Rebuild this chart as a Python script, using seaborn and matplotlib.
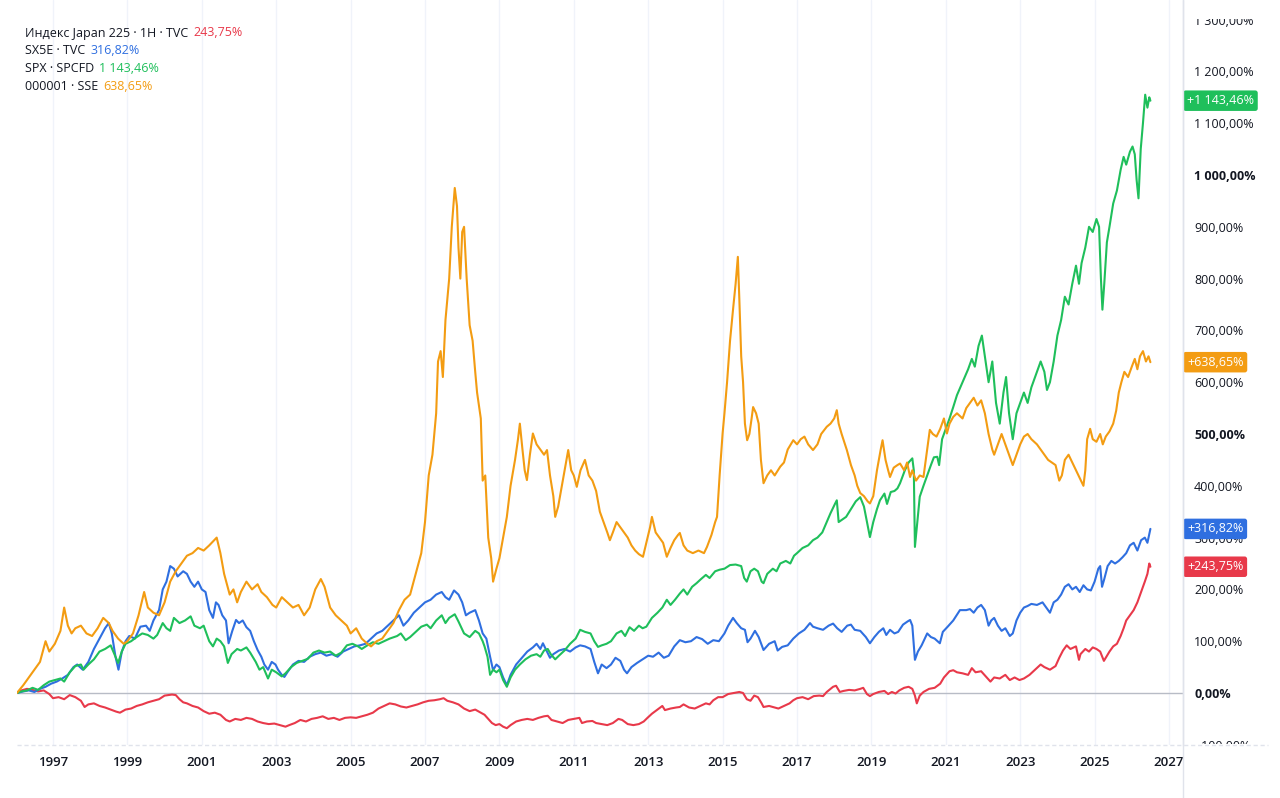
import numpy as np
import pandas as pd
import matplotlib
matplotlib.use("Agg")
import matplotlib.pyplot as plt
import seaborn as sns
from matplotlib.lines import Line2D
from matplotlib.transforms import Bbox, TransformedBbox

# ---------------- data (decimal year, % change) ----------------
SERIES_NAMES = ["Индекс Japan 225 · 1H · TVC", "SX5E · TVC", "SPX · SPCFD", "000001 · SSE"]
SERIES_KEYS = ["nikkei", "sx5e", "spx", "sse"]
LAST_VALUES = [243.75, 316.82, 1143.46, 638.65]
COLORS = ["#E8394A", "#2F6FE0", "#1FBF5B", "#F39C12"]

NIKKEI = [
    (1996.03, 0), (1996.15, 5), (1996.3, 8), (1996.45, 6), (1996.6, 3), (1996.75, 5), (1996.9, -2),
    (1997.0, -10), (1997.15, -8), (1997.3, -12), (1997.45, -4), (1997.6, -8), (1997.75, -15),
    (1997.85, -27), (1997.95, -22), (1998.1, -20), (1998.25, -25), (1998.4, -28), (1998.55, -32),
    (1998.7, -36), (1998.8, -38), (1998.95, -32), (1999.1, -30), (1999.25, -25), (1999.4, -22),
    (1999.55, -18), (1999.7, -15), (1999.85, -12), (2000.0, -5), (2000.2, -3), (2000.3, -4),
    (2000.4, -12), (2000.5, -18), (2000.6, -20), (2000.75, -25), (2000.9, -28), (2001.05, -35),
    (2001.2, -40), (2001.35, -38), (2001.5, -42), (2001.65, -52), (2001.75, -55), (2001.9, -50),
    (2002.05, -52), (2002.2, -48), (2002.35, -50), (2002.5, -55), (2002.65, -58), (2002.8, -60),
    (2002.95, -59), (2003.1, -62), (2003.25, -65), (2003.35, -62), (2003.5, -58), (2003.65, -52),
    (2003.8, -55), (2003.95, -50), (2004.1, -48), (2004.25, -45), (2004.4, -50), (2004.55, -48),
    (2004.7, -52), (2004.85, -48), (2005.0, -47), (2005.15, -48), (2005.3, -45), (2005.45, -42),
    (2005.6, -38), (2005.75, -30), (2005.9, -25), (2006.05, -20), (2006.2, -22), (2006.35, -26),
    (2006.5, -28), (2006.65, -25), (2006.8, -22), (2006.95, -18), (2007.1, -15), (2007.25, -14),
    (2007.4, -12), (2007.5, -10), (2007.6, -15), (2007.75, -18), (2007.9, -22), (2008.05, -30),
    (2008.2, -35), (2008.35, -32), (2008.5, -38), (2008.6, -42), (2008.7, -50), (2008.8, -58),
    (2008.9, -62), (2009.0, -60), (2009.1, -65), (2009.2, -68), (2009.3, -62), (2009.45, -55),
    (2009.6, -52), (2009.75, -50), (2009.9, -52), (2010.05, -48), (2010.2, -45), (2010.3, -44),
    (2010.4, -52), (2010.55, -55), (2010.7, -58), (2010.85, -52), (2011.0, -50), (2011.15, -48),
    (2011.22, -58), (2011.35, -55), (2011.5, -54), (2011.6, -58), (2011.75, -60), (2011.9, -62),
    (2012.05, -58), (2012.2, -50), (2012.3, -52), (2012.45, -60), (2012.6, -62), (2012.75, -60),
    (2012.88, -55), (2012.98, -48), (2013.1, -40), (2013.25, -32), (2013.38, -25), (2013.45, -33),
    (2013.6, -30), (2013.75, -28), (2013.85, -27), (2013.95, -22), (2014.1, -28), (2014.25, -30),
    (2014.4, -25), (2014.55, -20), (2014.65, -22), (2014.75, -14), (2014.88, -8), (2015.0, -8),
    (2015.15, -2), (2015.3, 0), (2015.45, 2), (2015.55, 0), (2015.65, -12), (2015.75, -15),
    (2015.85, -5), (2015.95, -8), (2016.05, -20), (2016.1, -27), (2016.25, -25), (2016.4, -28),
    (2016.5, -30), (2016.65, -25), (2016.8, -20), (2016.9, -14), (2017.0, -10), (2017.15, -8),
    (2017.3, -12), (2017.45, -6), (2017.6, -5), (2017.7, -6), (2017.8, 2), (2017.9, 8),
    (2017.97, 12), (2018.05, 14), (2018.15, 2), (2018.25, 4), (2018.4, 6), (2018.55, 5),
    (2018.7, 8), (2018.78, 10), (2018.88, -2), (2018.96, -6), (2019.05, -2), (2019.2, 2),
    (2019.35, 4), (2019.45, -2), (2019.55, 2), (2019.65, -1), (2019.75, 5), (2019.88, 10),
    (2020.0, 12), (2020.1, 8), (2020.17, -5), (2020.22, -20), (2020.3, -5), (2020.4, 2),
    (2020.55, 8), (2020.7, 10), (2020.85, 18), (2020.95, 30), (2021.1, 42), (2021.2, 44),
    (2021.3, 40), (2021.45, 38), (2021.6, 35), (2021.7, 48), (2021.8, 40), (2021.95, 42),
    (2022.1, 30), (2022.2, 22), (2022.3, 30), (2022.45, 28), (2022.6, 35), (2022.72, 25),
    (2022.85, 30), (2022.98, 25), (2023.1, 28), (2023.25, 35), (2023.4, 45), (2023.55, 55),
    (2023.65, 50), (2023.8, 45), (2023.95, 52), (2024.05, 68), (2024.15, 82), (2024.25, 92),
    (2024.35, 85), (2024.5, 90), (2024.58, 64), (2024.62, 75), (2024.75, 85), (2024.85, 80),
    (2024.95, 88), (2025.05, 85), (2025.15, 80), (2025.25, 62), (2025.3, 68), (2025.4, 80),
    (2025.5, 90), (2025.6, 95), (2025.7, 110), (2025.78, 125), (2025.85, 140), (2025.95, 150),
    (2026.05, 160), (2026.15, 175), (2026.25, 195), (2026.35, 215), (2026.42, 230),
    (2026.47, 250), (2026.5, 243.75),
]

SX5E = [
    (1996.03, 0), (1996.2, 3), (1996.35, 5), (1996.5, 2), (1996.65, 8), (1996.8, 12), (1996.95, 18),
    (1997.1, 22), (1997.25, 28), (1997.4, 35), (1997.55, 50), (1997.65, 55), (1997.8, 45),
    (1997.95, 60), (1998.1, 85), (1998.25, 105), (1998.4, 125), (1998.5, 135), (1998.58, 115),
    (1998.68, 70), (1998.76, 45), (1998.85, 80), (1998.95, 100), (1999.05, 110), (1999.2, 105),
    (1999.35, 128), (1999.5, 130), (1999.6, 120), (1999.7, 140), (1999.85, 160), (1999.95, 200),
    (2000.05, 215), (2000.15, 245), (2000.25, 240), (2000.35, 225), (2000.5, 235), (2000.6, 230),
    (2000.7, 215), (2000.8, 205), (2000.9, 215), (2001.0, 200), (2001.1, 195), (2001.2, 160),
    (2001.3, 145), (2001.38, 175), (2001.45, 170), (2001.55, 150), (2001.65, 140), (2001.72, 96),
    (2001.82, 120), (2001.92, 141), (2002.0, 135), (2002.1, 140), (2002.2, 127), (2002.3, 120),
    (2002.4, 100), (2002.5, 83), (2002.6, 70), (2002.68, 55), (2002.78, 45), (2002.88, 60),
    (2002.98, 55), (2003.05, 45), (2003.15, 35), (2003.22, 31), (2003.3, 40), (2003.45, 55),
    (2003.6, 62), (2003.75, 60), (2003.9, 70), (2004.05, 75), (2004.2, 78), (2004.35, 72),
    (2004.5, 75), (2004.65, 70), (2004.8, 80), (2004.95, 85), (2005.1, 90), (2005.25, 92),
    (2005.4, 95), (2005.55, 105), (2005.7, 115), (2005.85, 120), (2006.0, 130), (2006.15, 140),
    (2006.3, 150), (2006.42, 130), (2006.55, 140), (2006.7, 155), (2006.85, 165), (2007.0, 175),
    (2007.15, 180), (2007.3, 190), (2007.45, 195), (2007.55, 185), (2007.65, 180), (2007.78, 198),
    (2007.9, 190), (2008.0, 175), (2008.1, 150), (2008.2, 155), (2008.35, 160), (2008.45, 140),
    (2008.55, 115), (2008.65, 105), (2008.75, 70), (2008.83, 44), (2008.92, 55), (2009.0, 50),
    (2009.1, 30), (2009.2, 15), (2009.3, 35), (2009.45, 55), (2009.63, 70), (2009.75, 80),
    (2009.9, 88), (2010.0, 95), (2010.1, 85), (2010.17, 96), (2010.28, 80), (2010.36, 68),
    (2010.45, 75), (2010.6, 82), (2010.75, 85), (2010.9, 80), (2011.05, 88), (2011.17, 92),
    (2011.3, 90), (2011.45, 85), (2011.55, 60), (2011.65, 38), (2011.75, 55), (2011.88, 48),
    (2012.0, 55), (2012.12, 68), (2012.25, 62), (2012.35, 45), (2012.43, 38), (2012.55, 50),
    (2012.7, 58), (2012.85, 65), (2013.0, 72), (2013.13, 70), (2013.28, 78), (2013.42, 68),
    (2013.55, 72), (2013.7, 90), (2013.85, 102), (2014.0, 98), (2014.15, 100), (2014.3, 108),
    (2014.45, 104), (2014.6, 95), (2014.75, 102), (2014.9, 100), (2015.05, 115), (2015.15, 130),
    (2015.28, 145), (2015.38, 135), (2015.5, 125), (2015.6, 122), (2015.67, 98), (2015.75, 105),
    (2015.87, 120), (2015.97, 108), (2016.1, 83), (2016.25, 95), (2016.4, 100), (2016.48, 82),
    (2016.6, 89), (2016.75, 92), (2016.9, 105), (2017.05, 115), (2017.2, 122), (2017.35, 135),
    (2017.43, 128), (2017.55, 125), (2017.7, 122), (2017.85, 130), (2017.97, 134), (2018.08, 125),
    (2018.2, 118), (2018.35, 130), (2018.45, 132), (2018.55, 122), (2018.7, 120), (2018.85, 108),
    (2018.96, 96), (2019.08, 108), (2019.2, 118), (2019.32, 125), (2019.4, 112), (2019.5, 122),
    (2019.62, 115), (2019.72, 118), (2019.85, 132), (2019.97, 138), (2020.04, 141), (2020.1, 130),
    (2020.17, 64), (2020.25, 80), (2020.35, 92), (2020.5, 115), (2020.6, 108), (2020.7, 105),
    (2020.84, 96), (2020.92, 118), (2021.05, 128), (2021.2, 140), (2021.38, 160), (2021.55, 160),
    (2021.65, 162), (2021.75, 155), (2021.85, 165), (2021.95, 170), (2022.05, 160), (2022.15, 130),
    (2022.22, 140), (2022.3, 145), (2022.4, 130), (2022.5, 120), (2022.6, 125), (2022.72, 110),
    (2022.8, 115), (2022.9, 140), (2023.0, 155), (2023.1, 165), (2023.2, 168), (2023.3, 172),
    (2023.45, 170), (2023.6, 175), (2023.7, 165), (2023.8, 155), (2023.9, 175), (2024.0, 180),
    (2024.1, 190), (2024.2, 205), (2024.3, 210), (2024.4, 200), (2024.5, 205), (2024.6, 195),
    (2024.7, 208), (2024.8, 200), (2024.9, 198), (2025.0, 215), (2025.1, 240), (2025.15, 245),
    (2025.2, 205), (2025.26, 220), (2025.35, 245), (2025.45, 255), (2025.55, 250), (2025.65, 255),
    (2025.75, 262), (2025.85, 270), (2025.95, 285), (2026.05, 290), (2026.15, 275), (2026.25, 295),
    (2026.35, 300), (2026.42, 290), (2026.5, 316.82),
]

SPX = [
    (1996.03, 0), (1996.15, 3), (1996.3, 5), (1996.45, 10), (1996.6, 6), (1996.75, 15), (1996.9, 22),
    (1997.05, 25), (1997.2, 28), (1997.3, 22), (1997.45, 40), (1997.6, 52), (1997.75, 55),
    (1997.82, 45), (1997.95, 55), (1998.1, 65), (1998.25, 80), (1998.4, 85), (1998.55, 92),
    (1998.65, 75), (1998.75, 58), (1998.85, 80), (1998.95, 95), (1999.1, 100), (1999.25, 108),
    (1999.4, 115), (1999.55, 112), (1999.7, 105), (1999.8, 112), (1999.95, 135), (2000.05, 125),
    (2000.15, 120), (2000.25, 145), (2000.4, 135), (2000.55, 140), (2000.7, 148), (2000.8, 130),
    (2000.95, 125), (2001.05, 130), (2001.2, 100), (2001.3, 90), (2001.4, 105), (2001.5, 100),
    (2001.6, 90), (2001.7, 58), (2001.8, 75), (2001.95, 85), (2002.05, 82), (2002.2, 88),
    (2002.3, 78), (2002.45, 60), (2002.55, 45), (2002.65, 50), (2002.78, 28), (2002.88, 45),
    (2003.0, 40), (2003.15, 32), (2003.25, 38), (2003.4, 50), (2003.55, 58), (2003.7, 62),
    (2003.85, 66), (2004.0, 78), (2004.15, 82), (2004.3, 78), (2004.45, 80), (2004.6, 72),
    (2004.75, 78), (2004.9, 92), (2005.05, 95), (2005.2, 90), (2005.3, 85), (2005.45, 92),
    (2005.6, 98), (2005.75, 95), (2005.9, 100), (2006.05, 105), (2006.25, 110), (2006.35, 115),
    (2006.48, 102), (2006.6, 108), (2006.75, 118), (2006.9, 128), (2007.05, 132), (2007.15, 125),
    (2007.3, 140), (2007.45, 150), (2007.55, 135), (2007.65, 145), (2007.8, 152), (2007.9, 138),
    (2008.05, 115), (2008.2, 108), (2008.35, 120), (2008.45, 115), (2008.55, 100), (2008.6, 90),
    (2008.68, 70), (2008.75, 35), (2008.83, 45), (2008.92, 40), (2009.0, 45), (2009.1, 25),
    (2009.2, 12), (2009.3, 30), (2009.42, 45), (2009.55, 55), (2009.7, 65), (2009.85, 72),
    (2010.0, 75), (2010.1, 70), (2010.2, 82), (2010.3, 85), (2010.38, 75), (2010.5, 65),
    (2010.6, 72), (2010.75, 82), (2010.9, 95), (2011.05, 105), (2011.17, 122), (2011.3, 118),
    (2011.45, 115), (2011.55, 100), (2011.65, 89), (2011.75, 92), (2011.88, 95), (2012.0, 100),
    (2012.15, 115), (2012.28, 120), (2012.38, 110), (2012.5, 127), (2012.62, 120), (2012.75, 130),
    (2012.85, 125), (2012.95, 128), (2013.1, 145), (2013.25, 155), (2013.38, 165), (2013.5, 180),
    (2013.6, 170), (2013.72, 180), (2013.85, 192), (2013.95, 200), (2014.05, 190), (2014.18, 205),
    (2014.3, 212), (2014.42, 220), (2014.55, 228), (2014.65, 222), (2014.8, 235), (2014.92, 238),
    (2015.05, 240), (2015.2, 247), (2015.35, 248), (2015.5, 245), (2015.58, 222), (2015.65, 215),
    (2015.75, 235), (2015.85, 240), (2015.95, 235), (2016.05, 215), (2016.1, 212), (2016.2, 230),
    (2016.35, 240), (2016.45, 235), (2016.55, 250), (2016.7, 255), (2016.82, 250), (2016.92, 265),
    (2017.0, 270), (2017.15, 280), (2017.3, 285), (2017.43, 295), (2017.55, 300), (2017.68, 310),
    (2017.8, 330), (2017.9, 347), (2018.02, 365), (2018.07, 372), (2018.12, 330), (2018.2, 334),
    (2018.32, 340), (2018.45, 355), (2018.58, 370), (2018.7, 378), (2018.8, 360), (2018.88, 330),
    (2018.96, 301), (2019.05, 330), (2019.15, 355), (2019.23, 372), (2019.35, 385), (2019.42, 365),
    (2019.52, 388), (2019.62, 390), (2019.7, 395), (2019.77, 405), (2019.9, 430), (2020.0, 445),
    (2020.1, 453), (2020.14, 430), (2020.17, 282), (2020.22, 320), (2020.3, 379), (2020.4, 400),
    (2020.5, 420), (2020.6, 440), (2020.68, 455), (2020.77, 456), (2020.82, 440), (2020.9, 490),
    (2021.0, 510), (2021.1, 530), (2021.2, 552), (2021.3, 575), (2021.45, 600), (2021.6, 625),
    (2021.7, 645), (2021.78, 630), (2021.88, 670), (2021.97, 690), (2022.05, 650), (2022.15, 600),
    (2022.25, 640), (2022.35, 560), (2022.45, 520), (2022.55, 580), (2022.62, 610), (2022.7, 540),
    (2022.8, 490), (2022.9, 540), (2023.0, 560), (2023.1, 580), (2023.2, 560), (2023.3, 590),
    (2023.45, 620), (2023.55, 640), (2023.65, 620), (2023.72, 585), (2023.8, 600), (2023.9, 640),
    (2024.0, 690), (2024.1, 720), (2024.2, 765), (2024.3, 750), (2024.4, 790), (2024.5, 825),
    (2024.58, 790), (2024.65, 830), (2024.75, 860), (2024.85, 900), (2024.95, 890), (2025.05, 915),
    (2025.12, 900), (2025.17, 800), (2025.21, 740), (2025.26, 790), (2025.33, 870), (2025.4, 900),
    (2025.5, 945), (2025.6, 970), (2025.7, 1010), (2025.78, 1035), (2025.85, 1020), (2025.95, 1045),
    (2026.02, 1055), (2026.08, 1040), (2026.13, 990), (2026.18, 955), (2026.24, 1050),
    (2026.3, 1100), (2026.36, 1155), (2026.42, 1130), (2026.47, 1150), (2026.5, 1143.46),
]

SSE = [
    (1996.03, 0), (1996.2, 15), (1996.35, 30), (1996.5, 45), (1996.65, 60), (1996.8, 100),
    (1996.9, 80), (1997.05, 95), (1997.2, 120), (1997.3, 165), (1997.4, 130), (1997.5, 115),
    (1997.6, 125), (1997.75, 130), (1997.9, 115), (1998.05, 110), (1998.2, 125), (1998.35, 145),
    (1998.5, 135), (1998.6, 120), (1998.75, 105), (1998.9, 95), (1999.0, 100), (1999.15, 115),
    (1999.3, 150), (1999.45, 195), (1999.55, 165), (1999.7, 155), (1999.85, 150), (2000.0, 175),
    (2000.15, 215), (2000.3, 235), (2000.45, 250), (2000.6, 265), (2000.75, 270), (2000.9, 280),
    (2001.05, 275), (2001.2, 285), (2001.4, 300), (2001.5, 270), (2001.6, 230), (2001.75, 190),
    (2001.85, 200), (2001.95, 175), (2002.05, 195), (2002.2, 215), (2002.35, 200), (2002.5, 210),
    (2002.6, 195), (2002.75, 185), (2002.9, 170), (2003.0, 165), (2003.15, 185), (2003.3, 175),
    (2003.45, 165), (2003.6, 170), (2003.75, 150), (2003.9, 165), (2004.05, 200), (2004.2, 220),
    (2004.3, 205), (2004.45, 165), (2004.6, 150), (2004.75, 140), (2004.9, 130), (2005.0, 115),
    (2005.15, 125), (2005.3, 105), (2005.45, 95), (2005.55, 90), (2005.7, 100), (2005.85, 105),
    (2006.0, 120), (2006.15, 135), (2006.3, 160), (2006.45, 180), (2006.6, 190), (2006.75, 230),
    (2006.9, 270), (2007.0, 330), (2007.1, 420), (2007.2, 460), (2007.3, 540), (2007.35, 640),
    (2007.42, 660), (2007.48, 610), (2007.55, 720), (2007.65, 800), (2007.72, 900), (2007.8, 975),
    (2007.86, 940), (2007.9, 860), (2007.95, 800), (2008.0, 890), (2008.05, 900), (2008.12, 800),
    (2008.2, 710), (2008.28, 680), (2008.35, 620), (2008.4, 580), (2008.5, 530), (2008.55, 410),
    (2008.62, 420), (2008.7, 300), (2008.78, 260), (2008.83, 215), (2008.92, 240), (2009.0, 260),
    (2009.1, 300), (2009.2, 340), (2009.3, 400), (2009.42, 450), (2009.5, 490), (2009.55, 520),
    (2009.62, 470), (2009.68, 430), (2009.74, 411), (2009.82, 460), (2009.9, 501), (2010.0, 480),
    (2010.1, 470), (2010.2, 460), (2010.28, 469), (2010.36, 420), (2010.45, 380), (2010.5, 340),
    (2010.58, 360), (2010.68, 400), (2010.78, 440), (2010.85, 469), (2010.93, 430), (2011.0, 420),
    (2011.08, 398), (2011.18, 430), (2011.3, 450), (2011.4, 420), (2011.5, 410), (2011.6, 390),
    (2011.7, 350), (2011.8, 330), (2011.9, 310), (2011.97, 295), (2012.05, 310), (2012.15, 330),
    (2012.25, 320), (2012.35, 310), (2012.45, 300), (2012.55, 285), (2012.65, 275), (2012.75, 268),
    (2012.86, 263), (2012.95, 290), (2013.05, 320), (2013.1, 340), (2013.2, 310), (2013.3, 300),
    (2013.4, 290), (2013.5, 263), (2013.6, 280), (2013.7, 295), (2013.8, 305), (2013.85, 309),
    (2013.95, 285), (2014.05, 275), (2014.2, 270), (2014.35, 275), (2014.5, 270), (2014.58, 282),
    (2014.7, 305), (2014.8, 330), (2014.85, 340), (2014.92, 420), (2015.0, 501), (2015.05, 540),
    (2015.12, 600), (2015.2, 680), (2015.28, 740), (2015.35, 790), (2015.41, 842), (2015.45, 760),
    (2015.5, 650), (2015.55, 600), (2015.6, 520), (2015.66, 488), (2015.72, 500), (2015.78, 530),
    (2015.82, 552), (2015.9, 540), (2015.97, 520), (2016.03, 450), (2016.1, 405), (2016.2, 420),
    (2016.3, 430), (2016.4, 420), (2016.55, 437), (2016.65, 445), (2016.75, 470), (2016.9, 488),
    (2017.0, 480), (2017.1, 490), (2017.2, 495), (2017.3, 480), (2017.43, 469), (2017.55, 480),
    (2017.65, 500), (2017.8, 514), (2017.9, 520), (2018.0, 530), (2018.07, 546), (2018.12, 520),
    (2018.2, 500), (2018.34, 469), (2018.45, 440), (2018.55, 420), (2018.62, 400), (2018.7, 386),
    (2018.8, 380), (2018.9, 370), (2018.96, 366), (2019.05, 380), (2019.15, 430), (2019.25, 470),
    (2019.3, 488), (2019.38, 450), (2019.45, 430), (2019.5, 417), (2019.6, 435), (2019.7, 440),
    (2019.77, 443), (2019.88, 430), (2019.96, 445), (2020.04, 417), (2020.1, 430), (2020.2, 410),
    (2020.3, 420), (2020.4, 417), (2020.5, 470), (2020.57, 508), (2020.65, 500), (2020.75, 495),
    (2020.85, 510), (2020.95, 530), (2021.03, 501), (2021.1, 520), (2021.2, 533), (2021.3, 540),
    (2021.45, 530), (2021.55, 550), (2021.65, 560), (2021.75, 570), (2021.85, 555), (2021.95, 565),
    (2022.05, 540), (2022.15, 500), (2022.25, 470), (2022.3, 460), (2022.4, 480), (2022.5, 500),
    (2022.6, 480), (2022.7, 460), (2022.8, 440), (2022.9, 460), (2023.0, 480), (2023.1, 495),
    (2023.2, 500), (2023.3, 490), (2023.45, 480), (2023.55, 470), (2023.65, 460), (2023.75, 450),
    (2023.85, 445), (2023.95, 440), (2024.05, 410), (2024.12, 420), (2024.2, 450), (2024.3, 460),
    (2024.4, 445), (2024.5, 430), (2024.6, 415), (2024.7, 400), (2024.75, 430), (2024.8, 490),
    (2024.88, 510), (2024.95, 490), (2025.05, 485), (2025.15, 500), (2025.22, 480), (2025.3, 495),
    (2025.4, 505), (2025.5, 520), (2025.58, 545), (2025.65, 580), (2025.72, 600), (2025.8, 620),
    (2025.9, 610), (2026.0, 630), (2026.08, 645), (2026.15, 625), (2026.22, 650), (2026.3, 660),
    (2026.38, 640), (2026.45, 650), (2026.5, 638.65),
]

YEAR_TICKS = list(range(1997, 2028, 2))
Y_TICKS = list(range(-100, 1301, 100))
BOLD_Y = [0, 500, 1000]

# ---------------- build frame ----------------
frames = []
for key, pts in zip(SERIES_KEYS, [NIKKEI, SX5E, SPX, SSE]):
    arr = np.array(pts, dtype=float)
    frames.append(pd.DataFrame({"t": arr[:, 0], "v": arr[:, 1], "series": key}))
df = pd.concat(frames, ignore_index=True)

# ---------------- figure ----------------
sns.set_theme(style="white")
plt.rcParams["font.family"] = ["Open Sans", "DejaVu Sans"]

W, H = 1280, 798
fig = plt.figure(figsize=(W / 100, H / 100), dpi=100)
fig.patch.set_facecolor("white")
ax_l, ax_r, ax_t, ax_b = 17, 1183, 0, 745
ax = fig.add_axes([ax_l / W, 1 - ax_b / H, (ax_r - ax_l) / W, (ax_b - ax_t) / H])
ax.set_facecolor("white")

# axis scaling: x = 53 px at 1997.0, 37.2 px per year; y: 0% at 693 px, 0.518 px per 1%
px_per_year = 37.2
x0 = 1997 + (ax_l - 53) / px_per_year
x1 = 1997 + (ax_r - 53) / px_per_year
y_bot = (693 - ax_b) / 0.518
y_top = (693 - ax_t) / 0.518

# faint vertical grid
for yr in YEAR_TICKS:
    ax.axvline(yr, color="#F0F3FA", lw=1, zorder=0)
ax.axhline(0, color="#B8BCC6", lw=1.0, zorder=1)

palette = dict(zip(SERIES_KEYS, COLORS))
sns.lineplot(data=df, x="t", y="v", hue="series", hue_order=SERIES_KEYS, palette=palette,
             estimator=None, sort=False, legend=False, linewidth=1.5, ax=ax, zorder=3)

ax.set_xlim(x0, x1)
ax.set_ylim(y_bot, y_top)
ax.set_xlabel("")
ax.set_ylabel("")

for s in ["top", "left", "bottom"]:
    ax.spines[s].set_visible(False)
ax.spines["right"].set_color("#E0E3EB")
ax.spines["right"].set_linewidth(1)

# x ticks
ax.set_xticks(YEAR_TICKS)
ax.set_xticklabels([str(y) for y in YEAR_TICKS])
ax.tick_params(axis="x", length=0, pad=8, labelsize=9.5, labelcolor="#131722")
for lab in ax.get_xticklabels():
    lab.set_fontweight("semibold")

# y ticks on the right
ax.yaxis.tick_right()


def fmt_pct(v):
    s = f"{abs(v):,.2f}".replace(",", " ").replace(".", ",")
    return ("−" if v < 0 else "") + s + "%"


ax.set_yticks(Y_TICKS)
ax.set_yticklabels([fmt_pct(v) for v in Y_TICKS])
ax.tick_params(axis="y", length=0, pad=8, labelsize=9, labelcolor="#131722")
clip = TransformedBbox(Bbox([[0, 54 / H], [1, 1 - 19 / H]]), fig.transFigure)
for v, tick in zip(Y_TICKS, ax.yaxis.get_major_ticks()):
    lab = tick.label2
    if v in BOLD_Y:
        lab.set_fontweight("bold")
    lab.set_clip_box(clip)
    lab.set_clip_on(True)

# bottom dashed line and right separator
ax.axhline(y_bot, xmin=0, xmax=(1268 - ax_l) / (ax_r - ax_l), color="#E0E3EB", lw=1,
           ls=(0, (3, 2)), clip_on=False, zorder=1)
fig.add_artist(Line2D([ax_r / W, ax_r / W], [0, 1], color="#E0E3EB", lw=1,
                      transform=fig.transFigure))

# value badges on the price scale
for val, col in zip(LAST_VALUES, COLORS):
    txt = "+" + fmt_pct(val)
    ax.annotate(txt, xy=(1, val), xycoords=("axes fraction", "data"),
                xytext=(4, 0), textcoords="offset pixels", ha="left", va="center",
                color="white", fontsize=9,
                bbox=dict(boxstyle="round,pad=0.3,rounding_size=0.2", fc=col, ec="none"),
                annotation_clip=False, zorder=10)

# legend block (top-left)
for i, (name, val, col) in enumerate(zip(SERIES_NAMES, LAST_VALUES, COLORS)):
    y = 1 - (33 + 18 * i) / H
    t = fig.text(25 / W, y, name, ha="left", va="center", fontsize=9, color="#131722")
    ax.annotate(fmt_pct(val), xy=(1, 0.5), xycoords=t, xytext=(5, 0),
                textcoords="offset pixels", ha="left", va="center", fontsize=9, color=col,
                annotation_clip=False)

fig.savefig("out.png", dpi=100, facecolor="white")
